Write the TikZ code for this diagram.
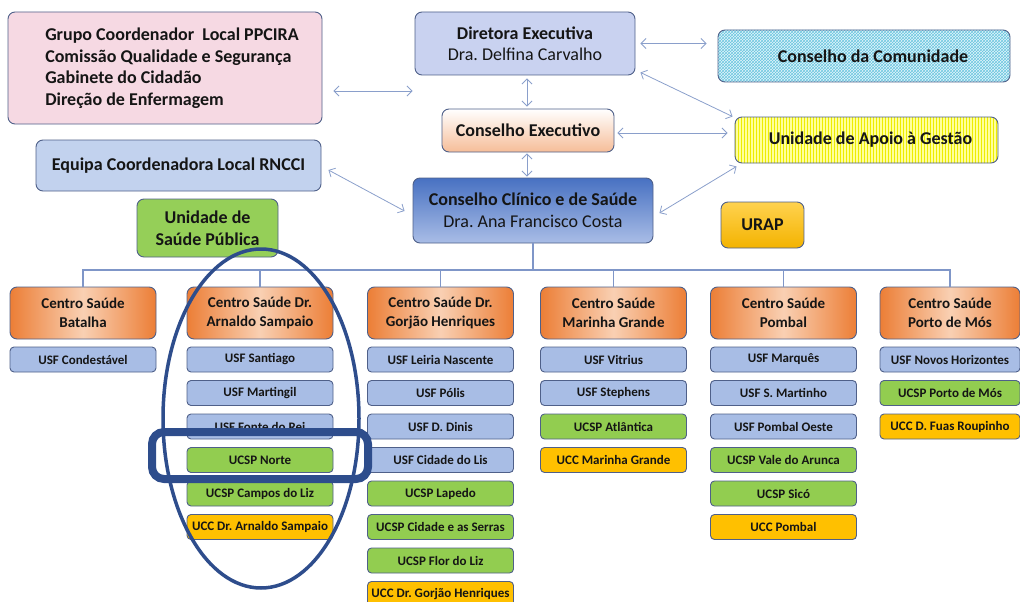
\documentclass[tikz,border=0pt]{standalone}
\usepackage{fontspec}
\setmainfont{Carlito}
\usetikzlibrary{arrows.meta,patterns,calc}
\definecolor{bordc}{HTML}{4F6089}
\definecolor{txt}{HTML}{151515}
\definecolor{pinkc}{HTML}{F6D9E3}
\definecolor{equipc}{HTML}{C2D2EE}
\definecolor{uspc}{HTML}{95CF58}
\definecolor{dirc}{HTML}{C9D2F0}
\definecolor{comfill}{HTML}{E2F5FB}
\definecolor{compat}{HTML}{6CC6E0}
\definecolor{cexb}{HTML}{F6BD98}
\definecolor{uagfill}{HTML}{FFFF9A}
\definecolor{uagpat}{HTML}{EDED00}
\definecolor{clinT}{HTML}{4871C2}
\definecolor{clinB}{HTML}{A9BDE6}
\definecolor{urapT}{HTML}{FFD24F}
\definecolor{urapB}{HTML}{F3B300}
\definecolor{orgE}{HTML}{EC7E36}
\definecolor{orgM}{HTML}{F9D0B3}
\definecolor{usfc}{HTML}{A8BDE5}
\definecolor{ucspc}{HTML}{92CD50}
\definecolor{uccc}{HTML}{FFC000}
\definecolor{arrc}{HTML}{8A9FCB}
\definecolor{treec}{HTML}{7F96C8}
\definecolor{navy}{HTML}{2E4D8C}
\frenchspacing
\begin{document}
\begin{tikzpicture}[x=1pt,y=-1pt,
  base/.style={draw=bordc, line width=0.9pt, rounded corners=7pt, align=center, inner sep=0pt, text=txt},
  topbox/.style={base, font=\fontsize{18}{21.5}\selectfont\bfseries},
  hdr/.style={base, minimum width=146pt, minimum height=52pt, left color=orgE, right color=orgE, middle color=orgM, font=\fontsize{15}{19.5}\selectfont\bfseries},
  usf/.style={base, rounded corners=4pt, minimum width=146pt, minimum height=25pt, fill=usfc, font=\fontsize{13}{14}\selectfont\bfseries},
  ucsp/.style={usf, fill=ucspc},
  ucc/.style={usf, fill=uccc},
  arr/.style={{Straight Barb[length=5pt,width=10pt]}-{Straight Barb[length=5pt,width=10pt]}, draw=arrc, line width=0.8pt},
  tree/.style={draw=treec, line width=1.4pt}
]
\useasboundingbox (0,0) rectangle (1020,602);

% top-level boxes
\node[topbox, fill=pinkc, minimum width=314pt, minimum height=112pt, align=left] (pink) at (165,68)
  {\hspace*{14pt}Grupo Coordenador\ \ Local PPCIRA\\\hspace*{14pt}Comissão Qualidade e Segurança\\\hspace*{14pt}Gabinete do Cidadão\\\hspace*{14pt}Direção de Enfermagem};
\node[topbox, fill=dirc, minimum width=220pt, minimum height=63pt] (dir) at (525,43.5)
  {Diretora Executiva\\{\mdseries Dra. Delfina Carvalho}};
\node[topbox, preaction={fill=comfill}, pattern=crosshatch, pattern color=compat, minimum width=292pt, minimum height=52pt] (com) at (864,56) {};
\node[font=\fontsize{18}{21.5}\selectfont\bfseries, text=txt] at ([xshift=9pt]com.center) {Conselho da Comunidade};
\node[topbox, top color=white, bottom color=cexb, minimum width=172pt, minimum height=43pt] (cex) at (528,130.5)
  {Conselho Executivo};
\node[topbox, preaction={fill=uagfill}, pattern=vertical lines, pattern color=uagpat, minimum width=263pt, minimum height=46pt] (uag) at (866.5,140) {};
\node[font=\fontsize{18}{21.5}\selectfont\bfseries, text=txt] at ([xshift=4pt]uag.center) {Unidade de Apoio à Gestão};
\node[topbox, fill=equipc, minimum width=285pt, minimum height=51pt] (equipa) at (178.5,165.5)
  {Equipa Coordenadora Local RNCCI};
\node[topbox, top color=clinT, bottom color=clinB, minimum width=240pt, minimum height=65pt] (clin) at (533,210.5)
  {Conselho Clínico e de Saúde\\{\mdseries Dra. Ana Francisco Costa}};
\node[topbox, top color=urapT, bottom color=urapB, minimum width=83pt, minimum height=46pt] (urap) at (762.5,225)
  {URAP};
\node[topbox, fill=uspc, minimum width=141pt, minimum height=58pt] (usp) at (207.5,228)
  {Unidade de\\Saúde Pública};

% arrows
\draw[arr] ([shift={(11,23)}]pink.east) -- ([shift={(-2,47.5)}]dir.west);
\draw[arr] ([xshift=5pt]dir.east) -- ([shift={(-11,-12.5)}]com.west);
\draw[arr] ([shift={(5,-3)}]dir.south east) -- ([shift={(-2,0)}]uag.north west);
\draw[arr, shorten <=3pt, shorten >=2pt] ([xshift=-1pt]cex.north |- dir.south) -- ([xshift=-1pt]cex.north);
\draw[arr] ([shift={(3,2.5)}]cex.east) -- ([shift={(-7,-7)}]uag.west);
\draw[arr, shorten <=1pt, shorten >=1pt] ([xshift=-1pt]cex.south) -- ([xshift=-1pt]cex.south |- clin.north);
\draw[arr] ([shift={(6,2.5)}]clin.east) -- ([shift={(2,3)}]uag.south west);
\draw[arr] ([shift={(7,4.5)}]equipa.east) -- ([shift={(-8,0.5)}]clin.west);

% column headers
\node[hdr] (c1) at (83,313) {Centro Saúde\\Batalha};
\node[hdr] (c2) at (260,313) {Centro Saúde Dr.\\Arnaldo Sampaio};
\node[hdr] (c3) at (440.5,313) {Centro Saúde Dr.\\Gorjão Henriques};
\node[hdr] (c4) at (613.5,313) {Centro Saúde\\Marinha Grande};
\node[hdr] (c5) at (783.5,313) {Centro Saúde\\Pombal};
\node[hdr, minimum width=140pt] (c6) at (950,313) {Centro Saúde\\Porto de Mós};

% tree
\draw[tree] (clin.south) -- ++(0,26.5) coordinate (bus);
\foreach \h in {c1,c2,c3,c4,c5,c6} { \draw[tree] (bus) -| (\h.north); }

% column 1
\node[usf] (c1a) at (83,359.5) {USF Condestável};
% column 2
\node[usf]  (c2a) at (260,359.5) {USF Santiago};
\node[usf]  (c2b) at (260,393)   {USF Martingil};
\node[usf]  (c2c) at (260,426.5) {USF Fonte do Rei};
\node[ucsp] (c2d) at (260,460)   {UCSP Norte};
\node[ucsp] (c2e) at (260,493.5) {UCSP Campos do Liz};
\node[ucc]  (c2f) at (260,527)   {UCC Dr. Arnaldo Sampaio};
% column 3
\node[usf]  (c3a) at (440.5,359.5) {USF Leiria Nascente};
\node[usf]  (c3b) at (440.5,393)   {USF Pólis};
\node[usf]  (c3c) at (440.5,426.5) {USF D. Dinis};
\node[usf]  (c3d) at (440.5,460)   {USF Cidade do Lis};
\node[ucsp] (c3e) at (440.5,493.5) {UCSP Lapedo};
\node[ucsp] (c3f) at (440.5,527)   {UCSP Cidade e as Serras};
\node[ucsp] (c3g) at (440.5,560.5) {UCSP Flor do Liz};
\node[ucc]  (c3h) at (440.5,594)   {UCC Dr. Gorjão Henriques};
% column 4
\node[usf]  (c4a) at (613.5,359.5) {USF Vitrius};
\node[usf]  (c4b) at (613.5,393)   {USF Stephens};
\node[ucsp] (c4c) at (613.5,426.5) {UCSP Atlântica};
\node[ucc]  (c4d) at (613.5,460)   {UCC Marinha Grande};
% column 5
\node[usf]  (c5a) at (783.5,359.5) {USF Marquês};
\node[usf]  (c5b) at (783.5,393)   {USF S. Martinho};
\node[usf]  (c5c) at (783.5,426.5) {USF Pombal Oeste};
\node[ucsp] (c5d) at (783.5,460)   {UCSP Vale do Arunca};
\node[ucsp] (c5e) at (783.5,493.5) {UCSP Sicó};
\node[ucc]  (c5f) at (783.5,527)   {UCC Pombal};
% column 6
\node[usf, minimum width=140pt]  (c6a) at (950,359.5) {USF Novos Horizontes};
\node[ucsp, minimum width=140pt] (c6b) at (950,393)   {UCSP Porto de Mós};
\node[ucc, minimum width=140pt]  (c6c) at (950,426.5) {UCC D. Fuas Roupinho};

% highlight marks
\draw[navy, line width=3.5pt] (261,418.5) ellipse [x radius=98, y radius=169.5];
\draw[navy, line width=8pt, rounded corners=12pt] (152,432) rectangle (368,479);
\end{tikzpicture}
\end{document}
